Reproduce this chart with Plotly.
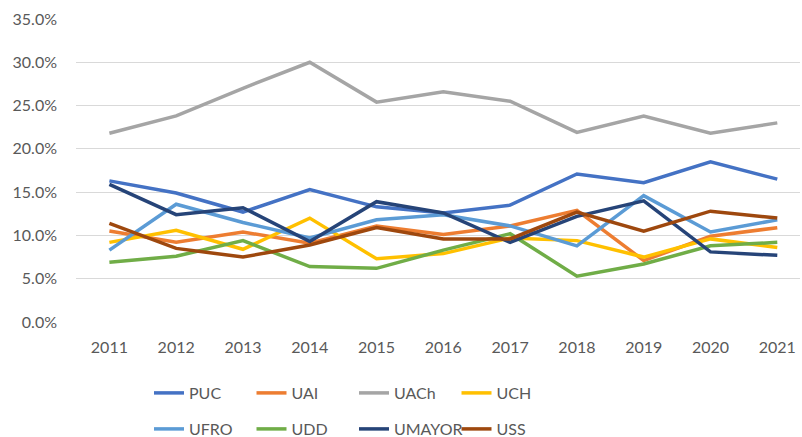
import plotly.graph_objects as go

years = [2011, 2012, 2013, 2014, 2015, 2016, 2017, 2018, 2019, 2020, 2021]
PUC = [16.3, 14.9, 12.7, 15.3, 13.3, 12.6, 13.5, 17.1, 16.1, 18.5, 16.5]
UAI = [10.5, 9.2, 10.4, 9.1, 11.1, 10.1, 11.1, 12.9, 7.1, 9.9, 10.9]
UACh = [21.8, 23.8, 27.0, 30.0, 25.4, 26.6, 25.5, 21.9, 23.8, 21.8, 23.0]
UCH = [9.2, 10.6, 8.4, 12.0, 7.3, 7.9, 9.7, 9.4, 7.5, 9.6, 8.6]
UFRO = [8.3, 13.6, 11.5, 9.7, 11.8, 12.4, 11.1, 8.8, 14.6, 10.4, 11.8]
UDD = [6.9, 7.6, 9.4, 6.4, 6.2, 8.3, 10.2, 5.3, 6.7, 8.8, 9.2]
UMAYOR = [15.9, 12.4, 13.2, 9.3, 13.9, 12.6, 9.2, 12.2, 14.0, 8.1, 7.7]
USS = [11.4, 8.5, 7.5, 8.9, 10.9, 9.6, 9.6, 12.7, 10.5, 12.8, 12.0]

y_ticks = [0, 5, 10, 15, 20, 25, 30, 35]
y_labels = ["0.0%", "5.0%", "10.0%", "15.0%", "20.0%", "25.0%", "30.0%", "35.0%"]

series = [
    ("PUC", PUC, "#4472C4", "legend"),
    ("UAI", UAI, "#ED7D31", "legend"),
    ("UACh", UACh, "#A5A5A5", "legend"),
    ("UCH", UCH, "#FFC000", "legend"),
    ("UFRO", UFRO, "#5B9BD5", "legend2"),
    ("UDD", UDD, "#70AD47", "legend2"),
    ("UMAYOR", UMAYOR, "#264478", "legend2"),
    ("USS", USS, "#9E480E", "legend2"),
]

fig = go.Figure()
for name, vals, color, lg in series:
    fig.add_trace(go.Scatter(x=years, y=vals, name=name, mode="lines",
                             line=dict(color=color, width=3.5), legend=lg))

font = dict(family="Lato, Carlito, sans-serif", size=16, color="#595959")
leg_common = dict(orientation="h", xref="container", yref="container",
                  xanchor="left", yanchor="middle", entrywidth=57.5,
                  entrywidthmode="pixels", font=font, bgcolor="rgba(0,0,0,0)",
                  itemwidth=30, tracegroupgap=0)

fig.update_layout(
    width=802, height=437,
    margin=dict(l=76, r=2, t=19, b=115, autoexpand=False),
    paper_bgcolor="white", plot_bgcolor="white",
    font=font,
    showlegend=True,
    legend=dict(x=149/802, y=1-393/437, **leg_common),
    legend2=dict(x=149/802, y=1-429/437, **leg_common),
    xaxis=dict(range=[2010.5, 2021.34], tickmode="array", tickvals=years,
               ticktext=[str(y) for y in years], showgrid=False, zeroline=False,
               showline=False, ticks="", ticklabelstandoff=14, tickfont=font),
    yaxis=dict(range=[0, 35], tickmode="array", tickvals=y_ticks, ticktext=y_labels,
               showgrid=True, gridcolor="#D9D9D9", gridwidth=1, zeroline=False,
               showline=False, ticks="", ticklabelstandoff=18, tickfont=font),
)

fig.write_html("out.html", config={"displayModeBar": False},
               post_script="document.body.style.margin='0';document.body.style.overflow='hidden';")
